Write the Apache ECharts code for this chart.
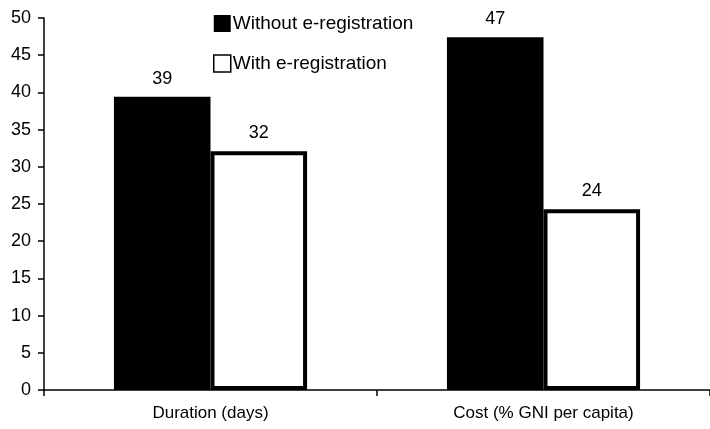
<!DOCTYPE html>
<html><head><meta charset="utf-8">
<script src="https://cdn.jsdelivr.net/npm/echarts@6/dist/echarts.min.js"></script>
<style>html,body{margin:0;padding:0;background:#fff}#c{width:710px;height:429px}</style>
</head><body><div id="c"></div>
<script>
const categories = ['Duration (days)', 'Cost (% GNI per capita)'];
const seriesNames = ['Without e-registration', 'With e-registration'];
const withoutVals = [39.4, 47.4];
const withVals = [32.1, 24.3];
const yTicks = [0, 5, 10, 15, 20, 25, 30, 35, 40, 45, 50];

const chart = echarts.init(document.getElementById('c'));
const font = 'Liberation Sans, Arial, sans-serif';
const lbl = {show: true, position: 'top', distance: 9, color: '#000', fontSize: 18, fontFamily: font,
  formatter: p => String(Math.round(p.value))};
chart.setOption({
  animation: false,
  grid: {left: 44, top: 18, bottom: 39, right: -4, containLabel: false},
  legend: {
    orient: 'vertical', left: 208, top: 9, itemGap: 21, itemWidth: 17, itemHeight: 17,
    icon: 'rect',
    textStyle: {fontSize: 19, fontFamily: font, color: '#000', padding: [0, 0, 0, -3]},
    data: [
      {name: seriesNames[0], itemStyle: {color: '#000', borderWidth: 0}},
      {name: seriesNames[1], itemStyle: {color: '#fff', borderColor: '#000', borderWidth: 1.5}}
    ]
  },
  xAxis: {
    type: 'category', data: categories,
    axisLine: {lineStyle: {color: '#000', width: 1.5}},
    axisTick: {show: true, length: 6, lineStyle: {color: '#000', width: 1.5}},
    axisLabel: {fontSize: 17, fontFamily: font, color: '#000', margin: 15}
  },
  yAxis: {
    type: 'value', min: yTicks[0], max: yTicks[yTicks.length - 1], interval: 5,
    splitLine: {show: false},
    axisLine: {show: true, lineStyle: {color: '#000', width: 1.5}},
    axisTick: {show: true, length: 6, lineStyle: {color: '#000', width: 1.5}},
    axisLabel: {fontSize: 18, fontFamily: font, color: '#000', margin: 13}
  },
  series: [
    {name: seriesNames[0], type: 'bar', data: withoutVals, barGap: '0%', barCategoryGap: '42%',
     itemStyle: {color: '#000'}, label: lbl},
    {name: seriesNames[1], type: 'bar', data: withVals, barGap: '0%', barCategoryGap: '42%',
     itemStyle: {color: '#fff', borderColor: '#000', borderWidth: 4}, label: lbl}
  ]
});
</script></body></html>
